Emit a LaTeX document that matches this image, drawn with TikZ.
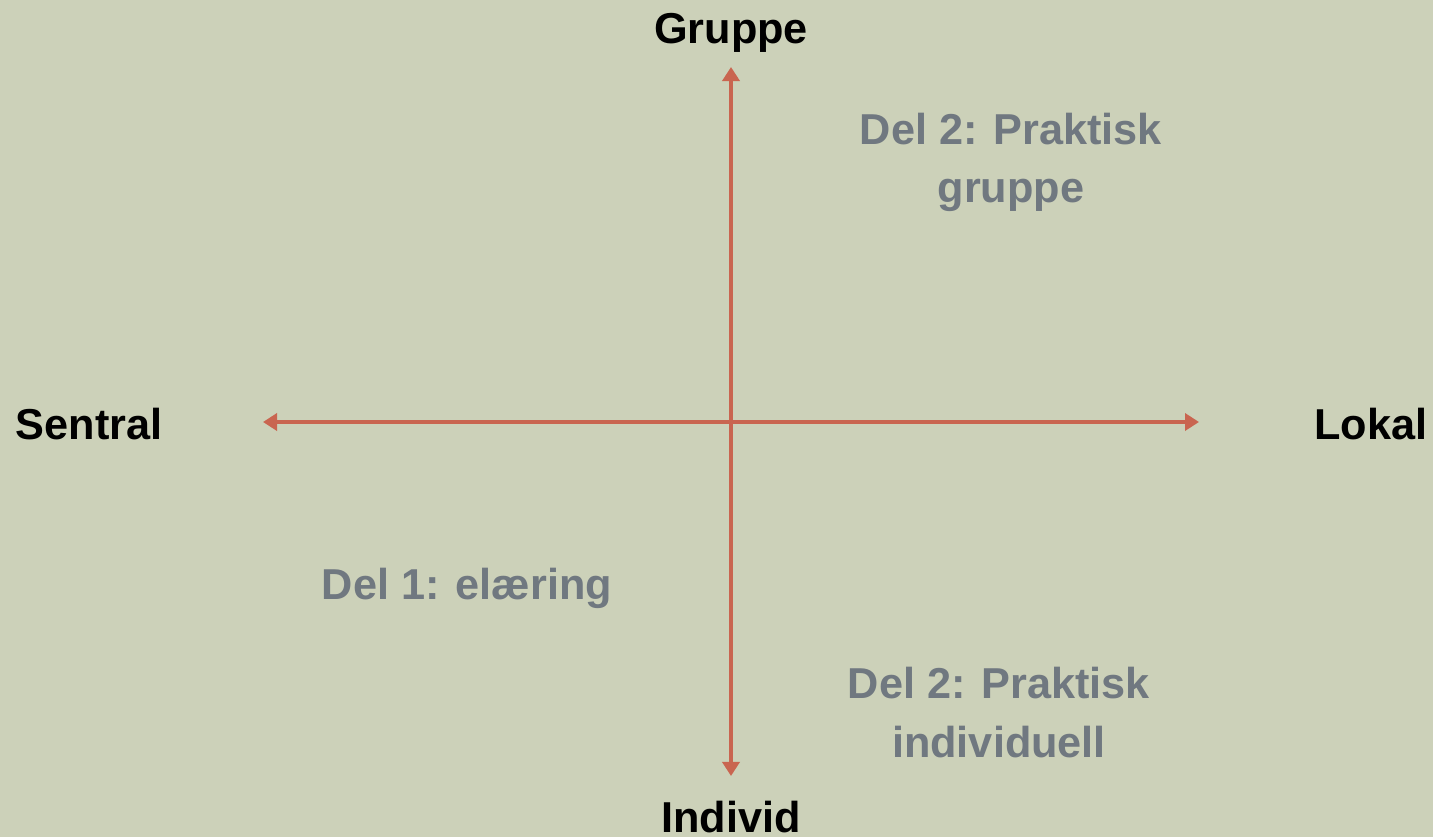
\documentclass[tikz,border=0pt]{standalone}
\usepackage{fontspec}
\setmainfont{Liberation Sans}
\usetikzlibrary{arrows.meta}
\definecolor{bgcol}{RGB}{204,209,185}
\definecolor{axiscol}{RGB}{201,101,80}
\definecolor{quadcol}{RGB}{112,120,128}
\begin{document}
\begin{tikzpicture}[x=0.01cm, y=-0.01cm, font=\bfseries\fontsize{12.3}{16.5}\selectfont]
        \tikzstyle{pole} = [inner sep=0pt, anchor=base, text=black]
        \tikzstyle{quadrant} = [inner sep=0pt, anchor=base, text=quadcol, align=center]
        \tikzstyle{axis} = [draw=axiscol, line width=1.1pt, {Triangle[length=0.14cm, width=0.17cm]}-{Triangle[length=0.14cm, width=0.17cm]}]
        % background
        \fill[bgcol] (0,0) rectangle (1433,837);
        \useasboundingbox (0,0) rectangle (1433,837);
        % axis ends
        \coordinate (left) at (263,422);
        \coordinate (right) at (1199,422);
        \coordinate (top) at (731,67);
        \coordinate (bottom) at (731,776);
        \draw[axis] (left) -- (right);
        \draw[axis] (bottom) -- (top);
        % pole labels
        \node[pole] (gruppe) at (731,44) {Gruppe};
        \node[pole] (individ) at (731,832) {Individ};
        \node[pole, anchor=base west] (sentral) at (15,440) {Sentral};
        \node[pole, anchor=base east] (lokal) at (1428,440) {Lokal};
        % quadrant labels (base = last line)
        \node[quadrant] (praktiskgruppe) at (1011,203) {Del 2: Praktisk\\gruppe};
        \node[quadrant] (elaering) at (467,600) {Del 1: elæring};
        \node[quadrant] (praktiskindivid) at (999,757) {Del 2: Praktisk\\individuell};
    \end{tikzpicture}
\end{document}
